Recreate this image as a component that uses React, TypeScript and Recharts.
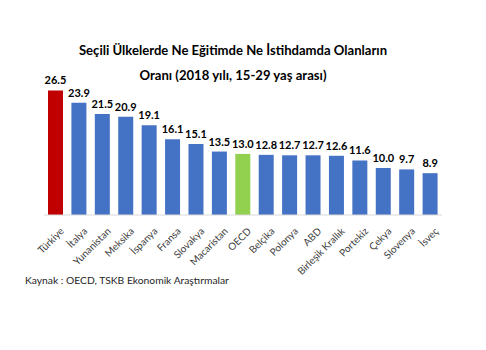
import React from 'react';
import { BarChart, Bar, XAxis, YAxis, Cell, LabelList } from 'recharts';

const countries = ['Türkiye', 'İtalya', 'Yunanistan', 'Meksika', 'İspanya', 'Fransa', 'Slovakya', 'Macaristan', 'OECD', 'Belçika', 'Polonya', 'ABD', 'Birleşik Krallık', 'Portekiz', 'Çekya', 'Slovenya', 'İsveç'];
const values = [26.5, 23.9, 21.5, 20.9, 19.1, 16.1, 15.1, 13.5, 13.0, 12.8, 12.7, 12.7, 12.6, 11.6, 10.0, 9.7, 8.9];
const colors = ['#C00000', '#4472C4', '#4472C4', '#4472C4', '#4472C4', '#4472C4', '#4472C4', '#4472C4', '#92D050', '#4472C4', '#4472C4', '#4472C4', '#4472C4', '#4472C4', '#4472C4', '#4472C4', '#4472C4'];

const data = countries.map((c, i) => ({ name: c, value: values[i] }));

const FONT = 'Lato, "Open Sans", sans-serif';

const Tick = (props: any) => {
  const { x, y, payload } = props;
  const ax = x + 6;
  const ay = y + 6;
  return (
    <text
      x={ax}
      y={ay}
      textAnchor="end"
      fontSize={10}
      fontFamily={FONT}
      fill="#404040"
      transform={`rotate(-45, ${ax}, ${ay})`}
      dominantBaseline="central"
    >
      {payload.value}
    </text>
  );
};

export default function App() {
  return (
    <div style={{ position: 'absolute', left: 0, top: 0, width: 486, height: 350, background: '#fff' }}>
      <div
        style={{
          position: 'absolute',
          left: 0,
          width: 466,
          top: 38,
          textAlign: 'center',
          fontFamily: FONT,
          fontWeight: 700,
          fontSize: 13.1,
          lineHeight: '25px',
          color: '#000',
        }}
      >
        Seçili Ülkelerde Ne Eğitimde Ne İstihdamda Olanların
        <br />
        Oranı (2018 yılı, 15-29 yaş arası)
      </div>
      <BarChart
        width={486}
        height={350}
        data={data}
        margin={{ top: 74, right: 44, bottom: 75, left: 44 }}
        barSize={15}
      >
        <YAxis hide domain={[0, 30]} />
        <XAxis
          dataKey="name"
          interval={0}
          height={60}
          tickLine={false}
          axisLine={{ stroke: '#D9D9D9' }}
          tick={<Tick />}
        />
        <Bar dataKey="value" isAnimationActive={false}>
          {data.map((d, i) => (
            <Cell key={d.name} fill={colors[i]} />
          ))}
          <LabelList
            dataKey="value"
            position="top"
            offset={6}
            formatter={(v: any) => Number(v).toFixed(1)}
            style={{ fontFamily: FONT, fontWeight: 700, fontSize: 11, fill: '#000' }}
          />
        </Bar>
      </BarChart>
      <div
        style={{
          position: 'absolute',
          left: 25,
          top: 274,
          fontFamily: FONT,
          fontSize: 10.3,
          color: '#262626',
          whiteSpace: 'nowrap',
        }}
      >
        Kaynak : OECD, TSKB Ekonomik Araştırmalar
      </div>
    </div>
  );
}
